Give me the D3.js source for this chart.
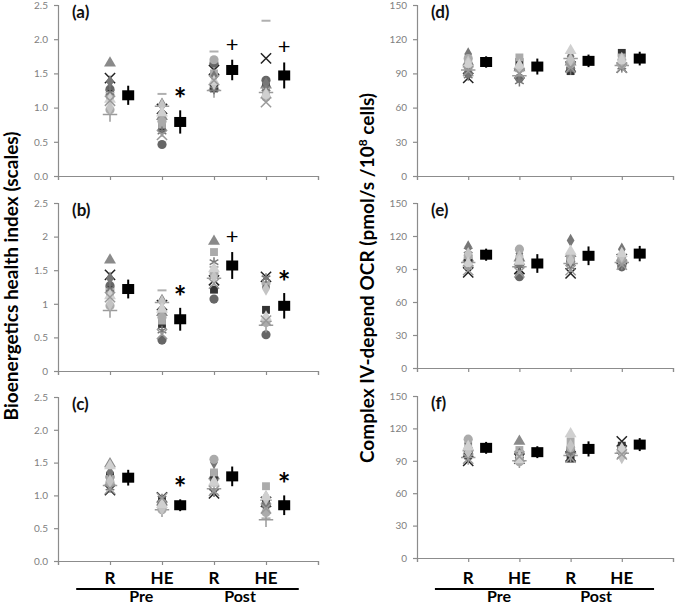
<!DOCTYPE html>
<html><head><meta charset="utf-8">
<script src="https://cdn.jsdelivr.net/npm/d3@7"></script>
<style>
body{margin:0;background:#fff;}
svg{display:block;font-family:Lato,"Open Sans",sans-serif;}
</style></head>
<body><svg id="c" width="675" height="606"></svg>
<script>
// ---------- DATA ----------
const groups = ["R", "HE", "R", "HE"];
const phases = ["Pre", "Post"];
const panelLabels = ["(a)", "(b)", "(c)", "(d)", "(e)", "(f)"];
const leftTicks = [0, 0.5, 1, 1.5, 2, 2.5];
const rightTicks = [0, 30, 60, 90, 120, 150];
const leftTitle = "Bioenergetics health index (scales)";
// individual subjects S0..S12 per group (Pre R, Pre HE, Post R, Post HE)
const panelA = [
  [1.65, 1.43, 1.27, 1.20, 1.15, 1.38, 1.22, 0.90, 1.22, 0.97, 1.00, 1.12, 1.10],
  [0.87, 0.98, 0.46, 0.70, 0.75, 1.05, 1.20, 1.02, 0.65, 0.80, 1.03, 0.92, 0.60],
  [1.30, 1.55, 1.65, 1.28, 1.50, 1.45, 1.82, 1.25, 1.27, 1.70, 1.35, 1.38, 1.40],
  [1.33, 1.72, 1.40, 1.30, 1.25, 1.35, 2.27, 1.22, 1.28, 1.15, 1.20, 1.18, 1.08]
];
const meanA = [1.18, 0.79, 1.55, 1.47];
const errA = [0.14, 0.17, 0.15, 0.19];
const sigA = ["", "*", "+", "+"];
const panelB = [
  [1.65, 1.43, 1.27, 1.20, 1.15, 1.38, 1.22, 0.90, 1.22, 0.97, 1.00, 1.12, 1.10],
  [0.87, 0.98, 0.46, 0.70, 0.75, 1.05, 1.20, 1.02, 0.60, 0.80, 1.03, 0.92, 0.55],
  [1.93, 1.35, 1.07, 1.21, 1.77, 1.50, 1.55, 1.38, 1.62, 1.45, 1.40, 1.52, 1.30],
  [0.78, 1.40, 0.54, 0.91, 1.28, 1.25, 1.30, 0.68, 1.38, 0.72, 1.22, 0.80, 0.75]
];
const meanB = [1.22, 0.77, 1.57, 0.97];
const errB = [0.14, 0.17, 0.20, 0.19];
const sigB = ["", "*", "+", "*"];
const panelC = [
  [1.48, 1.08, 1.28, 1.30, 1.25, 1.35, 1.42, 1.15, 1.12, 1.20, 1.22, 1.45, 1.10],
  [0.90, 0.97, 0.85, 0.92, 0.82, 0.88, 0.80, 0.78, 0.95, 0.78, 0.80, 0.86, 0.96],
  [1.30, 1.03, 1.25, 1.32, 1.35, 1.50, 1.15, 1.10, 1.05, 1.55, 1.20, 1.20, 1.07],
  [0.97, 0.90, 0.85, 0.90, 1.14, 0.88, 0.65, 0.63, 0.92, 0.74, 0.95, 0.98, 0.80]
];
const meanC = [1.27, 0.85, 1.29, 0.85];
const errC = [0.12, 0.09, 0.15, 0.15];
const sigC = ["", "*", "", "*"];
const panelD = [
  [100, 86, 90, 97, 102, 107, 95, 93, 88, 103, 100, 98, 92],
  [95, 90, 86, 100, 104, 97, 92, 88, 83, 94, 95, 97, 90],
  [100, 96, 94, 92, 97, 105, 98, 103, 93, 100, 102, 110, 95],
  [100, 95, 98, 108, 104, 100, 102, 97, 96, 98, 103, 101, 95]
];
const meanD = [100, 96, 101, 103];
const errD = [5, 7, 5.5, 6];
const panelE = [
  [100, 87, 97, 99, 93, 110, 100, 96, 107, 102, 104, 95, 89],
  [100, 90, 83, 96, 99, 104, 94, 92, 93, 108, 101, 97, 87],
  [104, 86, 97, 101, 99, 116, 103, 95, 92, 100, 98, 106, 89],
  [100, 99, 92, 100, 97, 108, 101, 96, 95, 98, 102, 104, 94]
];
const meanE = [103, 95, 102, 104];
const errE = [5.5, 8.5, 8.5, 7];
const panelF = [
  [102, 90, 97, 95, 104, 106, 100, 93, 100, 110, 98, 103, 92],
  [108, 92, 97, 93, 100, 96, 99, 90, 95, 89, 94, 91, 94],
  [100, 94, 100, 92, 108, 98, 96, 95, 97, 102, 104, 115, 93],
  [100, 108, 102, 104, 100, 96, 98, 97, 95, 99, 93, 101, 96]
];
const meanF = [102, 98, 101, 105];
const errF = [5.5, 5.5, 7, 6];
const sigNone = ["", "", "", ""];

// ---------- STYLE (per subject marker) ----------
const subjStyle = [
  {s: "triangle", c: "#8a8a8a"},
  {s: "times", c: "#222"},
  {s: "circle", c: "#666"},
  {s: "square", c: "#333"},
  {s: "square", c: "#ababab"},
  {s: "diamond", c: "#777"},
  {s: "dash", c: "#b0b0b0"},
  {s: "plus", c: "#9a9a9a"},
  {s: "asterisk", c: "#777"},
  {s: "circle", c: "#ababab"},
  {s: "diamond", c: "#c4c4c4"},
  {s: "triangle", c: "#d0d0d0"},
  {s: "times", c: "#999"}
];

const panels = [
  {vals: panelA, mean: meanA, err: errA, sig: sigA, col: 0, row: 0, fmt: d3.format(".1f")},
  {vals: panelB, mean: meanB, err: errB, sig: sigB, col: 0, row: 1, fmt: d => String(d)},
  {vals: panelC, mean: meanC, err: errC, sig: sigC, col: 0, row: 2, fmt: d3.format(".1f")},
  {vals: panelD, mean: meanD, err: errD, sig: sigNone, col: 1, row: 0, fmt: d => String(d)},
  {vals: panelE, mean: meanE, err: errE, sig: sigNone, col: 1, row: 1, fmt: d => String(d)},
  {vals: panelF, mean: meanF, err: errF, sig: sigNone, col: 1, row: 2, fmt: d => String(d)}
];

// ---------- LAYOUT ----------
const svg = d3.select("#c");
const colX = [[58, 318], [417, 673]];
const rowY = [[[176, 5], [371, 203], [561, 397]], [[176, 5], [368, 203], [558, 396]]];
const axisColor = "#8c8c8c";

function symPath(type) {
  if (type === "circle") return d3.symbol(d3.symbolCircle, 66)();
  if (type === "square") return d3.symbol(d3.symbolSquare, 62)();
  if (type === "triangle") return d3.symbol(d3.symbolTriangle, 62)();
  if (type === "diamond") return d3.symbol(d3.symbolDiamond, 52)();
  if (type === "times") return d3.symbol(d3.symbolTimes || d3.symbolX, 70)();
  if (type === "plus") return d3.symbol(d3.symbolPlus, 70)();
  if (type === "asterisk") return d3.symbol(d3.symbolAsterisk, 70)();
  if (type === "dash") return "M-4.5,0L4.5,0";
  return d3.symbol(d3.symbolCircle, 60)();
}
const strokeTypes = new Set(["times", "plus", "asterisk", "dash"]);

panels.forEach((p, pi) => {
  const [x0, x1] = colX[p.col];
  const [yb, yt] = rowY[p.col][p.row];
  const x = d3.scaleLinear().domain([0, 5]).range([x0, x1]);
  const y = d3.scaleLinear().domain(p.col === 0 ? [0, 2.5] : [0, 150]).range([yb, yt]);
  const ticks = p.col === 0 ? leftTicks : rightTicks;
  const g = svg.append("g");

  // y axis
  const ya = g.append("g").attr("transform", `translate(${x0},0)`)
    .call(d3.axisLeft(y).tickValues(ticks).tickFormat(p.fmt).tickSizeOuter(0).tickSize(4).tickPadding(6));
  ya.selectAll("path,line").attr("stroke", axisColor).attr("stroke-width", 1.2);
  ya.selectAll("text").attr("fill", "#808080").style("font-size", "10px").style("font-family", "Lato, sans-serif");

  // x axis
  const xa = g.append("g").attr("transform", `translate(0,${yb})`)
    .call(d3.axisBottom(x).tickValues([0, 1, 2, 3, 4, 5]).tickFormat("").tickSizeOuter(0).tickSize(4));
  xa.selectAll("path,line").attr("stroke", axisColor).attr("stroke-width", 1.2);

  // panel label
  g.append("text").attr("x", x0 + 14).attr("y", yt + 13)
    .attr("font-weight", "bold").attr("font-size", 17).attr("fill", "#111")
    .text(panelLabels[pi]);

  // individual points
  p.vals.forEach((arr, gi) => {
    arr.forEach((v, si) => {
      if (v == null) return;
      const st = subjStyle[si];
      const path = g.append("path")
        .attr("d", symPath(st.s))
        .attr("transform", `translate(${x(gi + 1)},${y(v)})`);
      if (strokeTypes.has(st.s)) {
        path.attr("fill", "none").attr("stroke", st.c).attr("stroke-width", st.s === "dash" ? 2 : 1.5);
      } else {
        path.attr("fill", st.c);
      }
    });
  });

  // means with error bars
  p.mean.forEach((m, gi) => {
    const cx = x(gi + 1.35);
    g.append("line").attr("x1", cx).attr("x2", cx)
      .attr("y1", y(m - p.err[gi])).attr("y2", y(m + p.err[gi]))
      .attr("stroke", "#000").attr("stroke-width", 2);
    g.append("rect").attr("x", cx - 6).attr("y", y(m) - 5)
      .attr("width", 12).attr("height", 10).attr("fill", "#000");
    const s = p.sig[gi];
    if (s) {
      const ty = y(m + p.err[gi]) - 16;
      if (s === "*") {
        g.append("text").attr("x", cx).attr("y", ty + 16)
          .attr("text-anchor", "middle").attr("font-size", 30)
          .attr("font-weight", "bold").attr("fill", "#000").text(s);
      } else {
        g.append("text").attr("x", cx).attr("y", ty + 8)
          .attr("text-anchor", "middle").attr("font-size", 22)
          .attr("font-weight", "normal").attr("fill", "#000").text(s);
      }
    }
  });
});

// x category labels and phase labels
[0, 1].forEach(ci => {
  const [x0, x1] = colX[ci];
  const x = d3.scaleLinear().domain([0, 5]).range([x0, x1]);
  groups.forEach((gname, gi) => {
    svg.append("text").attr("x", x(gi + 1)).attr("y", 584)
      .attr("text-anchor", "middle").attr("font-weight", "bold").attr("font-size", 17)
      .attr("fill", "#000").text(gname);
  });
  svg.append("line").attr("x1", x(0.35)).attr("x2", x(4.63)).attr("y1", 589).attr("y2", 589)
    .attr("stroke", "#000").attr("stroke-width", 2);
  phases.forEach((ph, i) => {
    svg.append("text").attr("x", x(i === 0 ? 1.6 : 3.5)).attr("y", 602)
      .attr("text-anchor", "middle").attr("font-weight", "bold").attr("font-size", 16)
      .attr("fill", "#000").text(ph);
  });
});

// axis titles
svg.append("text").attr("transform", "translate(18,276) rotate(-90)")
  .attr("text-anchor", "middle").attr("font-weight", "bold").attr("font-size", 19)
  .attr("fill", "#000").text(leftTitle);
const rt = svg.append("text").attr("transform", "translate(374,278) rotate(-90)")
  .attr("text-anchor", "middle").attr("font-weight", "bold").attr("font-size", 19)
  .attr("fill", "#000");
rt.append("tspan").text("Complex IV-depend OCR (pmol/s /10");
rt.append("tspan").attr("dy", -7).attr("font-size", 12).text("8");
rt.append("tspan").attr("dy", 7).text(" cells)");
</script>
</body></html>
